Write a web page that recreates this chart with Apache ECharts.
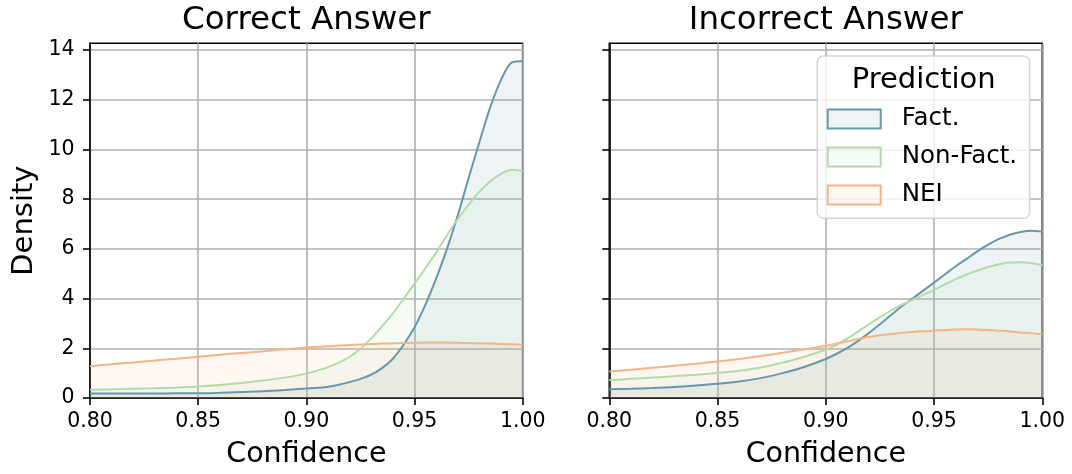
<!DOCTYPE html>
<html>
<head>
<meta charset="utf-8">
<script src="https://cdn.jsdelivr.net/npm/echarts@6/dist/echarts.min.js"></script>
<style>
html,body{margin:0;padding:0;background:#fff;}
#chart{width:1072px;height:474px;}
</style>
</head>
<body>
<div id="chart"></div>
<script>
// ---- data ----
const X = [0.80,0.81,0.82,0.83,0.84,0.85,0.86,0.87,0.88,0.89,0.90,
           0.905,0.91,0.915,0.92,0.925,0.93,0.935,0.94,0.945,0.95,
           0.955,0.96,0.965,0.97,0.975,0.98,0.985,0.99,0.995,1.00];
const correctFact    = [0.18,0.18,0.18,0.18,0.19,0.19,0.21,0.24,0.27,0.32,0.38,
                        0.41,0.45,0.53,0.64,0.77,0.94,1.20,1.58,2.15,2.85,
                        3.75,4.80,6.00,7.35,8.85,10.30,11.70,12.80,13.50,13.55];
const correctNonFact = [0.33,0.35,0.37,0.39,0.42,0.46,0.52,0.60,0.70,0.82,0.98,
                        1.10,1.24,1.42,1.66,1.98,2.40,2.88,3.40,4.00,4.60,
                        5.22,5.85,6.55,7.20,7.78,8.30,8.72,9.02,9.18,9.12];
const correctNEI     = [1.28,1.36,1.43,1.51,1.58,1.66,1.74,1.81,1.88,1.96,2.03,
                        2.06,2.08,2.11,2.13,2.15,2.17,2.19,2.20,2.21,2.22,
                        2.23,2.23,2.23,2.22,2.21,2.20,2.19,2.17,2.16,2.14];
const incorrectFact    = [0.35,0.37,0.40,0.44,0.50,0.57,0.66,0.80,1.00,1.25,1.57,
                          1.78,2.02,2.30,2.62,2.97,3.33,3.68,4.00,4.32,4.64,
                          4.97,5.30,5.60,5.90,6.17,6.40,6.57,6.68,6.73,6.70];
const incorrectNonFact = [0.72,0.77,0.82,0.88,0.94,1.01,1.10,1.23,1.42,1.66,1.95,
                          2.15,2.40,2.68,2.97,3.25,3.52,3.75,3.95,4.15,4.35,
                          4.57,4.78,4.97,5.13,5.27,5.38,5.45,5.46,5.42,5.34];
const incorrectNEI     = [1.07,1.14,1.22,1.30,1.38,1.47,1.57,1.69,1.82,1.96,2.10,
                          2.19,2.28,2.37,2.45,2.52,2.57,2.62,2.66,2.69,2.71,
                          2.74,2.76,2.77,2.76,2.74,2.71,2.68,2.64,2.61,2.57];
const panelTitles = ['Correct Answer', 'Incorrect Answer'];
const seriesNames = ['Fact.', 'Non-Fact.', 'NEI'];
const yTickValues = [0, 2, 4, 6, 8, 10, 12, 14];
const xTickValues = [0.80, 0.85, 0.90, 0.95, 1.00];

// ---- styling ----
const FONT = 'DejaVu Sans';
const lineColors = ['#6897ab', '#b4daaa', '#f3b486'];
const fillColors = ['rgba(104,151,171,0.11)', 'rgba(180,218,170,0.11)', 'rgba(243,180,134,0.11)'];
const GRID_COLOR = '#b0b0b0';

const panels = [
  [correctFact, correctNonFact, correctNEI],
  [incorrectFact, incorrectNonFact, incorrectNEI]
];
const gridBoxes = [
  {left: 90, top: 43.3, width: 432.7, height: 355},
  {left: 609.3, top: 43.3, width: 433, height: 355}
];

function pairs(xs, ys) { return xs.map((x, i) => [x, ys[i]]); }

const grids = gridBoxes.map(b => Object.assign({
  show: true, borderColor: '#000', borderWidth: 1.6, backgroundColor: 'transparent'
}, b));

const xAxes = [0, 1].map(i => ({
  type: 'value', gridIndex: i, min: 0.8, max: 1.0, interval: 0.05,
  name: 'Confidence', nameLocation: 'middle', nameGap: 42,
  nameTextStyle: {fontFamily: FONT, fontSize: 28.5, color: '#000'},
  axisLine: {show: true, onZero: false, lineStyle: {color: '#000', width: 1.6}},
  axisTick: {show: true, length: 7, lineStyle: {color: '#000', width: 1.6}, customValues: xTickValues},
  axisLabel: {fontFamily: FONT, fontSize: 20.5, color: '#000', margin: 13,
              customValues: xTickValues,
              formatter: v => v.toFixed(2)},
  splitLine: {show: true, lineStyle: {color: GRID_COLOR, width: 1.6}}
}));

const yAxes = [0, 1].map(i => ({
  type: 'value', gridIndex: i, min: 0, max: 14.27, interval: 2,
  name: i === 0 ? 'Density' : '', nameLocation: 'middle', nameGap: 51,
  nameTextStyle: {fontFamily: FONT, fontSize: 29, color: '#000'},
  axisLine: {show: true, lineStyle: {color: '#000', width: 1.6}},
  axisTick: {show: true, length: 7, lineStyle: {color: '#000', width: 1.6}, customValues: yTickValues},
  axisLabel: {show: i === 0, fontFamily: FONT, fontSize: 20.5, color: '#000', margin: 15.5,
              customValues: yTickValues,
              formatter: v => (yTickValues.indexOf(v) >= 0 ? String(v) : '')},
  splitLine: {show: true, lineStyle: {color: GRID_COLOR, width: 1.6}}
}));

const series = [];
panels.forEach((vals, p) => {
  vals.forEach((ys, k) => {
    series.push({
      type: 'line', name: seriesNames[k], xAxisIndex: p, yAxisIndex: p,
      data: pairs(X, ys), smooth: 0.3,
      showSymbol: false, symbol: 'none', sampling: null,
      lineStyle: {color: lineColors[k], width: 2},
      itemStyle: {color: lineColors[k]},
      areaStyle: {color: fillColors[k], opacity: 1},
      emphasis: {disabled: true},
      z: 2
    });
  });
});

const titles = panelTitles.map((t, i) => ({
  text: t, left: gridBoxes[i].left + gridBoxes[i].width / 2, top: 4.5,
  textAlign: 'center', padding: 0,
  textStyle: {fontFamily: FONT, fontSize: 32.5, fontWeight: 'normal', color: '#000'}
}));
titles.push({
  text: 'Prediction', left: 923.7, top: 65.5, textAlign: 'center', padding: 0, z: 10,
  textStyle: {fontFamily: FONT, fontSize: 29, fontWeight: 'normal', color: '#000'}
});

const option = {
  animation: false,
  backgroundColor: '#fff',
  title: titles,
  grid: grids,
  xAxis: xAxes,
  yAxis: yAxes,
  legend: {
    show: true, orient: 'vertical', left: 817.3, top: 56,
    padding: [50.6, 12.5, 10.7, 9.4],
    backgroundColor: 'rgba(255,255,255,0.8)',
    borderColor: 'rgba(204,204,204,0.8)', borderWidth: 1.6, borderRadius: 6,
    itemWidth: 53, itemHeight: 19, itemGap: 13, icon: 'rect',
    selectedMode: false,
    textStyle: {fontFamily: FONT, fontSize: 24.5, color: '#000', lineHeight: 19, padding: [0, 0, 0, 16]},
    data: seriesNames.map((n, k) => ({
      name: n, icon: 'rect',
      itemStyle: {color: fillColors[k], borderColor: lineColors[k], borderWidth: 2}
    })),
    z: 5
  },
  series: series
};

const chart = echarts.init(document.getElementById('chart'), null, {renderer: 'canvas'});
chart.setOption(option);
</script>
</body>
</html>
